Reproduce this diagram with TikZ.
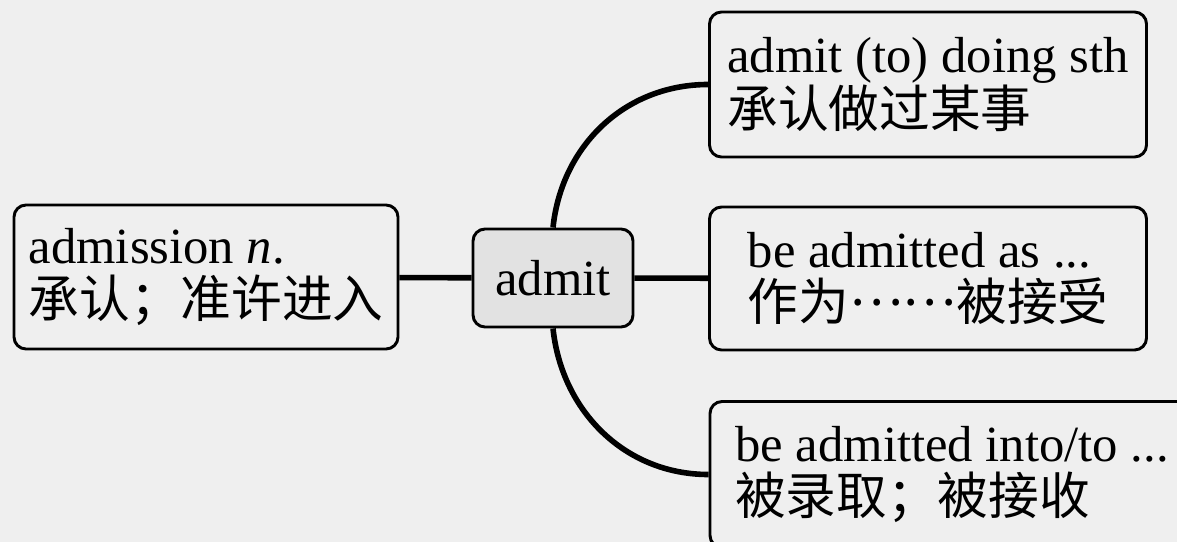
\documentclass[tikz,border=0pt]{standalone}
\usepackage{fontspec}
\setmainfont{Liberation Serif}
\newfontfamily\cjk{Noto Sans CJK SC}

\begin{document}
\begin{tikzpicture}[x=0.75pt,y=0.75pt,yscale=-1,xscale=1,
	wordbox/.style={draw, rounded corners=9pt, line width=2.2pt, align=left, inner sep=0pt, font=\fontsize{38}{40}\selectfont},
	link/.style={line width=4.2pt}]
	\useasboundingbox (0,0) rectangle (1177,542);
	
	%Shape: Rectangle [paper]
	\fill [color={rgb, 255:red, 239; green, 239; blue, 239 }] (0,0) rectangle (1177,542);
	\clip (0,0) rectangle (1177,542);
	
	%Shape: Rounded Rect [admit]
	\node [wordbox, fill={rgb, 255:red, 226; green, 226; blue, 226 }, minimum width=120pt, minimum height=73.5pt] (admit) at (553,278) {admit};
	%Shape: Rounded Rect [admission]
	\node [wordbox, minimum width=288pt, minimum height=108pt] (admission) at (206,277) {admission \textit{n}.\\{\cjk 承认；准许进入}};
	%Shape: Rounded Rect [doing]
	\node [wordbox, minimum width=327.75pt, minimum height=108.75pt] (doing) at (928,84.5) {admit (to) doing sth\\{\cjk 承认做过某事}};
	%Shape: Rounded Rect [as]
	\node [wordbox, minimum width=327.75pt, minimum height=107.25pt] (as) at (928,278.5) {be admitted as ...\\{\cjk 作为\raisebox{0.3em}{……}被接受}};
	%Shape: Rounded Rect [into]
	\node [wordbox, minimum width=363pt, minimum height=109.5pt] (into) at (952,474.5) {be admitted into/to ...\\{\cjk 被录取；被接收}};
	
	%Straight Lines
	\draw [link] (admission) -- (admit) ;
	\draw [link] (admit) -- (as) ;
	%Curve Lines (yscale=-1, so angles are mirrored)
	\draw [link] (admit.north) to[out=-84,in=180] (doing.west) ;
	\draw [link] (admit.south) to[out=84,in=180] (into.west) ;
	
\end{tikzpicture}
\end{document}
